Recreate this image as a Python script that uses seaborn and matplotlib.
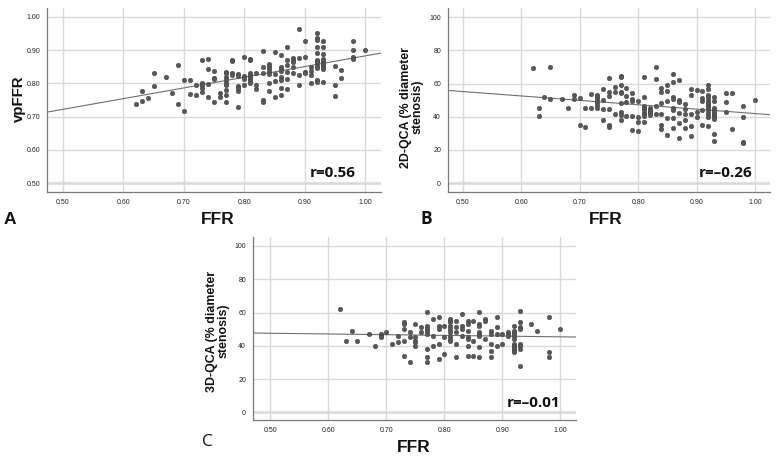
import numpy as np
import pandas as pd
import matplotlib
matplotlib.use("Agg")
import matplotlib.pyplot as plt
import seaborn as sns

# ---- Panel A: FFR vs vpFFR ----
a_ffr = ([0.62] + [0.63]*2 + [0.64] + [0.65]*2 + [0.67] + [0.68] + [0.69]*2 + [0.70]*2 + [0.71]*2 +
         [0.72]*2 + [0.73]*5 + [0.74]*4 + [0.75]*4 + [0.76]*2 + [0.77]*9 + [0.78]*4 + [0.79]*6 +
         [0.80]*5 + [0.81]*8 + [0.82]*3 + [0.83]*5 + [0.84]*7 + [0.85]*4 + [0.86]*8 + [0.87]*6 +
         [0.88]*5 + [0.89]*4 + [0.90]*4 + [0.91]*4 + [0.92]*12 + [0.93]*10 + [0.95]*3 + [0.96]*2 +
         [0.98]*4 + [1.00])
a_vpffr = [0.739,
           0.778, 0.748,
           0.757,
           0.830, 0.792,
           0.820,
           0.772,
           0.856, 0.737,
           0.810, 0.717,
           0.810, 0.768,
           0.794, 0.764,
           0.871, 0.800, 0.794, 0.786, 0.774,
           0.873, 0.842, 0.798, 0.760,
           0.836, 0.816, 0.812, 0.745,
           0.770, 0.760,
           0.834, 0.830, 0.820, 0.810, 0.800, 0.794, 0.780, 0.766, 0.743,
           0.869, 0.866, 0.832, 0.824,
           0.828, 0.822, 0.792, 0.786, 0.778, 0.729,
           0.880, 0.822, 0.818, 0.812, 0.794,
           0.872, 0.870, 0.832, 0.826, 0.820, 0.814, 0.808, 0.800,
           0.830, 0.796, 0.782,
           0.898, 0.848, 0.830, 0.751, 0.745,
           0.858, 0.852, 0.846, 0.838, 0.828, 0.800, 0.776,
           0.894, 0.828, 0.806, 0.760,
           0.886, 0.850, 0.842, 0.836, 0.818, 0.810, 0.786, 0.764,
           0.910, 0.870, 0.856, 0.834, 0.814, 0.782,
           0.876, 0.870, 0.864, 0.848, 0.830,
           0.965, 0.876, 0.824, 0.796,
           0.929, 0.880, 0.834, 0.830,
           0.850, 0.838, 0.826, 0.800,
           0.953, 0.937, 0.931, 0.910, 0.892, 0.870, 0.866, 0.860, 0.852, 0.846, 0.810, 0.804,
           0.927, 0.910, 0.888, 0.874, 0.866, 0.860, 0.854, 0.848, 0.842, 0.804,
           0.852, 0.794, 0.762,
           0.840, 0.816,
           0.929, 0.900, 0.878, 0.874,
           0.902]

# ---- Panel B: FFR vs 2D-QCA ----
b_ffr = ([0.62] + [0.63]*2 + [0.64] + [0.65]*2 + [0.67] + [0.68] + [0.69]*2 + [0.70]*2 + [0.71]*2 +
         [0.72]*2 + [0.73]*6 + [0.74]*4 + [0.75]*6 + [0.76]*3 + [0.77]*9 + [0.78]*4 + [0.79]*5 +
         [0.80]*4 + [0.81]*9 + [0.82]*5 + [0.83]*4 + [0.84]*6 + [0.85]*5 + [0.86]*8 + [0.87]*6 +
         [0.88]*5 + [0.89]*5 + [0.90]*3 + [0.91]*5 + [0.92]*13 + [0.93]*11 + [0.95]*3 + [0.96]*2 +
         [0.98]*4 + [1.00])
b_qca2d = [69.4,
           45.0, 40.4,
           51.7,
           69.8, 50.9,
           50.5,
           45.5,
           52.9, 50.5,
           51.3, 34.8,
           45.0, 34.0,
           53.7, 45.0,
           53.3, 52.1, 50.9, 48.9, 47.3, 45.0,
           57.0, 50.1, 44.7, 38.0,
           63.6, 54.9, 52.5, 44.7, 34.8, 34.0,
           57.7, 54.9, 41.9,
           64.6, 64.0, 59.4, 54.9, 54.1, 48.1, 43.1, 41.0, 38.0,
           57.3, 52.5, 48.7, 40.4,
           54.1, 50.5, 49.7, 40.4, 32.0,
           49.3, 40.0, 36.8, 31.4,
           64.0, 51.7, 46.7, 45.5, 44.7, 43.1, 41.9, 40.4, 36.8,
           45.0, 44.3, 43.5, 42.3, 41.0,
           70.2, 62.8, 46.3, 41.5,
           57.3, 54.9, 48.1, 41.9, 34.8, 32.4,
           59.0, 55.3, 49.7, 39.0, 29.0,
           65.6, 61.2, 52.1, 50.9, 45.0, 44.3, 39.2, 33.2,
           62.0, 50.1, 48.9, 42.3, 36.0, 27.4,
           47.9, 44.7, 41.5, 38.0, 33.2,
           56.5, 52.9, 41.5, 34.4, 28.2,
           56.1, 42.7, 39.6,
           55.7, 51.3, 49.3, 44.3, 35.2,
           59.4, 56.5, 53.3, 51.7, 50.1, 48.9, 47.7, 46.3, 45.0, 43.5, 41.9, 40.0, 34.4,
           52.1, 49.3, 45.5, 44.3, 43.1, 41.9, 41.0, 39.6, 38.8, 29.4, 25.2,
           54.5, 48.7, 42.7,
           54.1, 32.8,
           46.3, 39.6, 24.7, 23.9,
           50.1]

# ---- Panel C: FFR vs 3D-QCA ----
c_ffr = ([0.62] + [0.63] + [0.64] + [0.65] + [0.67] + [0.68] + [0.69]*3 + [0.70] + [0.71] +
         [0.72]*2 + [0.73]*5 + [0.74]*3 + [0.75]*5 + [0.76]*2 + [0.77]*8 + [0.78]*3 + [0.79]*5 +
         [0.80]*3 + [0.81]*9 + [0.82]*5 + [0.83]*4 + [0.84]*7 + [0.85]*3 + [0.86]*8 + [0.87]*3 +
         [0.88]*5 + [0.89]*4 + [0.90]*2 + [0.91]*3 + [0.92]*12 + [0.93]*8 + [0.95] + [0.96] +
         [0.98]*3 + [1.00])
c_qca3d = [62.1,
           43.1,
           49.1,
           43.1,
           47.1,
           40.1,
           47.1, 46.1, 45.1,
           48.1,
           41.1,
           46.1, 42.1,
           54.1, 53.1, 50.1, 43.1, 34.1,
           48.1, 45.1, 30.1,
           53.1, 45.1, 43.1, 42.1, 40.1,
           51.1, 48.1,
           60.1, 52.1, 50.1, 49.1, 47.1, 38.1, 33.1, 30.1,
           56.1, 46.1, 40.1,
           57.1, 52.1, 50.1, 41.1, 32.1,
           52.1, 45.1, 35.1,
           56.1, 55.1, 54.1, 52.1, 50.1, 48.1, 46.1, 44.1, 43.1,
           55.1, 51.1, 48.1, 41.1, 33.1,
           59.1, 52.1, 50.1, 46.1,
           55.1, 53.1, 49.1, 45.1, 44.1, 40.1, 34.1,
           55.1, 43.1, 34.1,
           60.1, 53.1, 52.1, 48.1, 47.1, 46.1, 39.1, 33.1,
           56.1, 55.1, 44.1,
           49.1, 47.1, 41.1, 37.1, 33.1,
           57.1, 51.1, 47.1, 40.1,
           47.1, 41.1,
           48.1, 47.1, 46.1,
           52.1, 49.1, 48.1, 47.1, 46.1, 44.1, 41.1, 40.1, 39.1, 38.1, 37.1, 36.1,
           61.1, 54.1, 51.1, 50.1, 41.1, 40.1, 38.1, 28.1,
           53.1,
           49.1,
           57.1, 36.1, 33.1,
           50.1]

x_ticks = [0.50, 0.60, 0.70, 0.80, 0.90, 1.00]
x_ticklabels = ["0.50", "0.60", "0.70", "0.80", "0.90", "1.00"]
a_yticks = [0.50, 0.60, 0.70, 0.80, 0.90, 1.00]
a_yticklabels = ["0.50", "0.60", "0.70", "0.80", "0.90", "1.00"]
q_yticks = [0, 20, 40, 60, 80, 100]
q_yticklabels = ["0", "20", "40", "60", "80", "100"]

sns.set_theme(style="whitegrid")
plt.rcParams["font.family"] = ["Liberation Sans", "DejaVu Sans"]

W, H = 776, 462
fig = plt.figure(figsize=(W / 100, H / 100), dpi=100)


def px_axes(l, t, r, b):
    return fig.add_axes([l / W, 1 - b / H, (r - l) / W, (b - t) / H])


POINT = "#585858"
LINE = "#6e6e6e"
GRID = "#d9d9d9"


def style(ax, xlim, ylim, yticks, yticklabels):
    ax.set_facecolor("white")
    ax.set_xlim(*xlim)
    ax.set_ylim(*ylim)
    ax.set_xticks(x_ticks)
    ax.set_xticklabels(x_ticklabels)
    ax.set_yticks(yticks)
    ax.set_yticklabels(yticklabels)
    ax.grid(True, color=GRID, linewidth=1.0)
    ax.set_axisbelow(True)
    # lowest horizontal gridline appears as a wider, paler band
    ax.axhline(yticks[0], color="#e4e4e4", linewidth=2.2, zorder=0.5)
    ax.tick_params(axis="both", length=0, pad=5, labelsize=5.0, colors="#222222")
    for s in ["top", "right"]:
        ax.spines[s].set_visible(False)
    for s in ["left", "bottom"]:
        ax.spines[s].set_visible(True)
        ax.spines[s].set_color("#7a7a7a")
        ax.spines[s].set_linewidth(0.9)
    ax.set_xlabel("")
    ax.set_ylabel("")


def panel(ax, x, y):
    df = pd.DataFrame({"x": x, "y": y})
    sns.regplot(data=df, x="x", y="y", ax=ax, scatter=False, ci=None, truncate=False,
                line_kws={"color": LINE, "linewidth": 0.8})
    sns.scatterplot(data=df, x="x", y="y", ax=ax, s=11, color=POINT,
                    edgecolor="#3e3e3e", linewidth=0.3, zorder=3)


# Panel A
axA = px_axes(47, 8, 381, 192)
axA.set_xlim(0.4735, 1.026)
panel(axA, a_ffr, a_vpffr)
style(axA, (0.4735, 1.026), (0.473, 1.027), a_yticks, a_yticklabels)

# Panel B
axB = px_axes(448, 8, 770, 192)
axB.set_xlim(0.475, 1.0256)
panel(axB, b_ffr, b_qca2d)
style(axB, (0.475, 1.0256), (-5.4, 105.6), q_yticks, q_yticklabels)

# Panel C
axC = px_axes(253, 237, 576, 420)
axC.set_xlim(0.470, 1.027)
panel(axC, c_ffr, c_qca3d)
style(axC, (0.470, 1.027), (-4.6, 105.4), q_yticks, q_yticklabels)

# r annotations
rfont = dict(family=["Open Sans", "DejaVu Sans"], fontweight="bold", fontsize=11, color="#111111")
fig.text(356 / W, 1 - 173 / H, "r=0.56", ha="right", va="center", **rfont)
fig.text(752 / W, 1 - 173 / H, "r=\u20130.26", ha="right", va="center", **rfont)
fig.text(560 / W, 1 - 403 / H, "r=\u20130.01", ha="right", va="center", **rfont)

# axis labels
lab = dict(color="#111111", fontweight="bold")
fig.text(218 / W, 1 - 224 / H, "FFR", ha="center", va="baseline", fontsize=12.5, **lab)
fig.text(606 / W, 1 - 224 / H, "FFR", ha="center", va="baseline", fontsize=12.5, **lab)
fig.text(414 / W, 1 - 452 / H, "FFR", ha="center", va="baseline", fontsize=12.5, **lab)
fig.text(19 / W, 1 - 99 / H, "vpFFR", ha="center", va="center", rotation=90, fontsize=10.8, **lab)
fig.text(412 / W, 1 - 107 / H, "2D-QCA (% diameter\nstenosis)", ha="center", va="center",
         rotation=90, fontsize=8.9, multialignment="center", linespacing=1.0, **lab)
fig.text(218 / W, 1 - 331 / H, "3D-QCA (% diameter\nstenosis)", ha="center", va="center",
         rotation=90, fontsize=8.9, multialignment="center", linespacing=1.0, **lab)

# panel letters
fig.text(4 / W, 1 - 224 / H, "A", ha="left", va="baseline", fontsize=12.5, **lab)
fig.text(421 / W, 1 - 224 / H, "B", ha="left", va="baseline", fontsize=12.5,
         family=["Open Sans", "DejaVu Sans"], color="#111111", fontweight="bold")
fig.text(202 / W, 1 - 446 / H, "C", ha="left", va="baseline", fontsize=12.5,
         family=["Open Sans", "DejaVu Sans"], color="#111111")

fig.savefig("out.png", dpi=100, facecolor="white")
